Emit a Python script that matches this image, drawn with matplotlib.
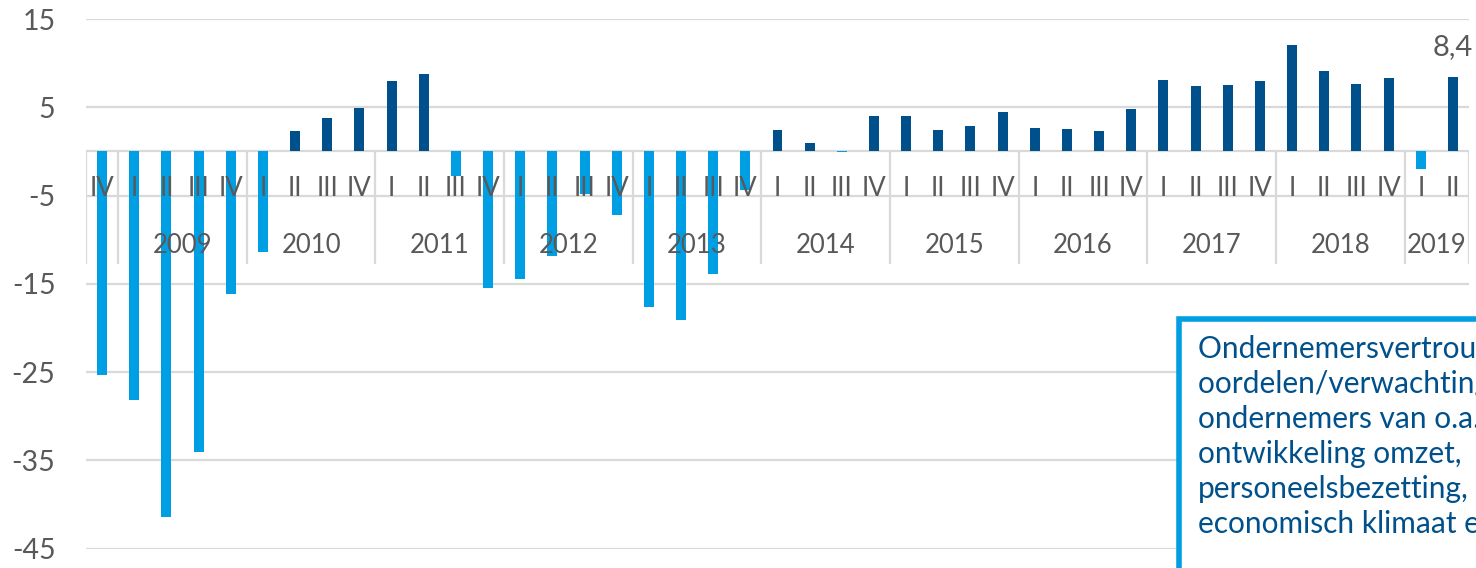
import numpy as np
import matplotlib.pyplot as plt
from matplotlib.patches import Rectangle

# quarters from 2008 IV to 2019 II
quarters = ["IV"] + ["I", "II", "III", "IV"] * 10 + ["I", "II"]
years = ["2009", "2010", "2011", "2012", "2013", "2014", "2015", "2016", "2017", "2018", "2019"]
year_sizes = [4] * 10 + [2]
values = [-25.3,
          -28.2, -41.4, -34.1, -16.2,
          -11.4, 2.3, 3.8, 4.9,
          8.0, 8.8, -2.8, -15.5,
          -14.4, -11.9, -4.8, -7.2,
          -17.6, -19.1, -13.9, -4.4,
          2.4, 1.0, -0.1, 4.0,
          4.0, 2.4, 2.9, 4.5,
          2.6, 2.5, 2.3, 4.8,
          8.1, 7.4, 7.5, 8.0,
          12.1, 9.1, 7.6, 8.3,
          -2.0, 8.4]
last_label = "8,4"

box_lines = ["Ondernemersvertrouwen: de",
             "oordelen/verwachtingen van",
             "ondernemers van o.a. de",
             "ontwikkeling omzet,",
             "personeelsbezetting,",
             "economisch klimaat en"]

dark = "#00508C"
light = "#009FE3"
grey = "#595959"
gridc = "#D9D9D9"

plt.rcParams['font.family'] = ['Lato', 'DejaVu Sans']
plt.rcParams['axes.unicode_minus'] = False

fig = plt.figure(figsize=(14.76, 5.68), dpi=100)
W, H = 1476, 568
ax = fig.add_axes([86 / W, 1 - 548.7 / H, (1469 - 86) / W, (548.7 - 19) / H])

x = np.arange(len(values))
vals = np.array(values)
cols = [dark if v >= 0 else light for v in vals]
ax.bar(x, vals, width=0.31, color=cols, zorder=3)

ax.set_xlim(-0.5, len(values) - 0.5)
ax.set_ylim(-45, 15)
ax.set_yticks([15, 5, -5, -15, -25, -35, -45])
ax.tick_params(axis='y', length=0, pad=22, labelsize=20.5, labelcolor=grey)
ax.set_xticks([])
for s in ax.spines.values():
    s.set_visible(False)
ax.yaxis.grid(True, color=gridc, linewidth=1.6, zorder=0)
ax.axhline(0, color=gridc, linewidth=1.6, zorder=1)

# category labels
for i, q in enumerate(quarters):
    ax.text(i, -4.2, q, ha='center', va='center', fontsize=18.5, color=grey, zorder=4)

# year labels and separators
bounds = [-0.5, 0.5]
pos = 0.5
for n in year_sizes:
    pos += n
    bounds.append(pos)
for k, yr in enumerate(years):
    ax.text((bounds[k + 1] + bounds[k + 2]) / 2, -10.6, yr, ha='center', va='center',
            fontsize=18.5, color=grey, zorder=4)
ax.vlines(bounds, 0, -12.8, color=gridc, linewidth=1.6, zorder=1)

ax.text(x[-1], vals[-1] + 2.0, last_label, ha='center', va='bottom', fontsize=21, color=grey)

# explanatory box (runs off the figure edge)
fig.patches.append(Rectangle((1179 / W, 1 - 600 / H), 400 / W, (600 - 319) / H,
                             transform=fig.transFigure, facecolor='white',
                             edgecolor=light, linewidth=4, zorder=10))
for j, line in enumerate(box_lines):
    fig.text(1198 / W, 1 - (349 + 35 * j) / H, line, ha='left', va='center',
             fontsize=21.5, color=dark, zorder=11)

fig.savefig("out.png", dpi=100)
